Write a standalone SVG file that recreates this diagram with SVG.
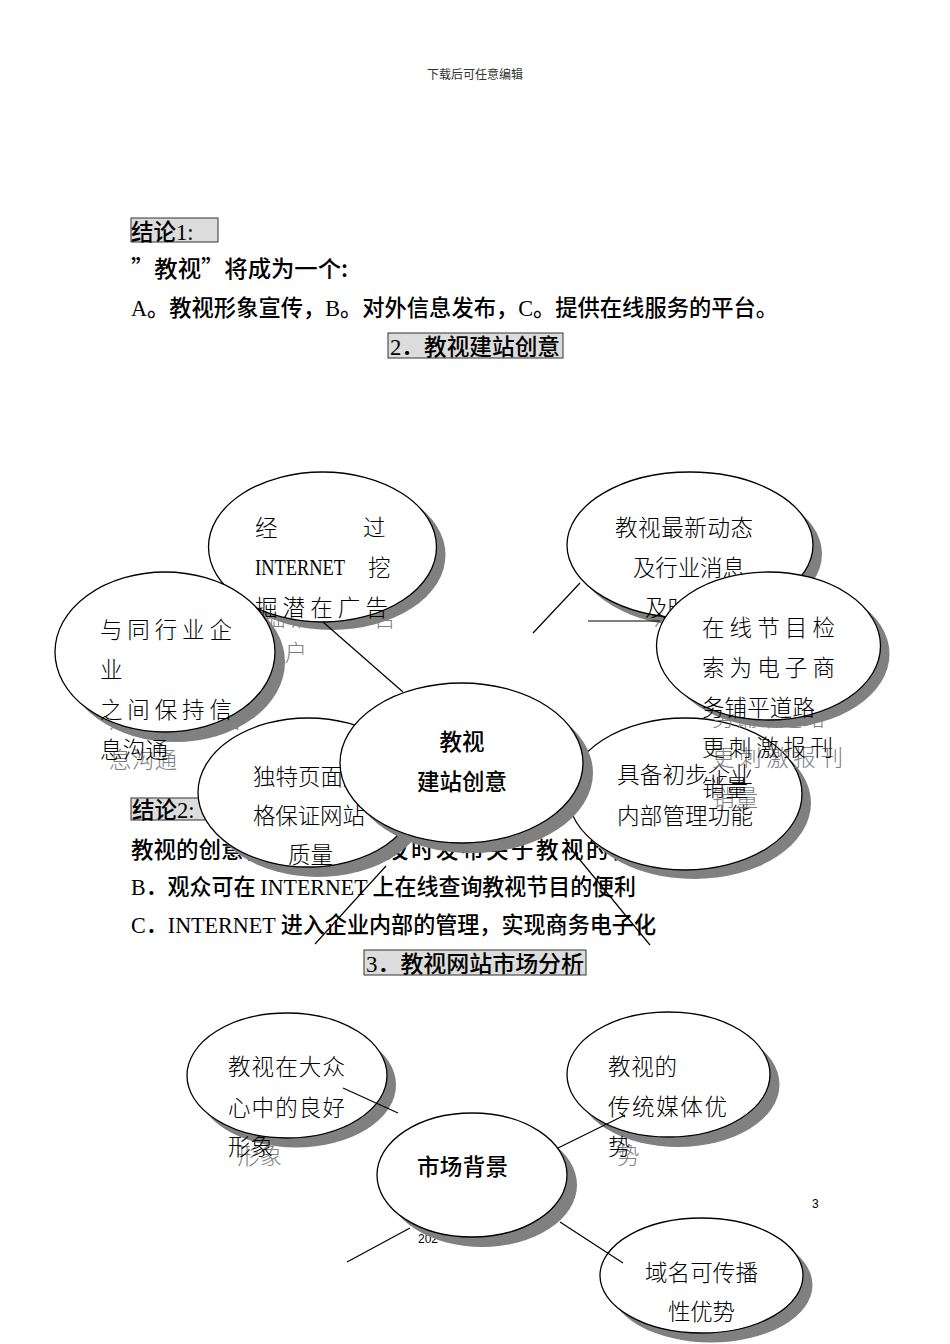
<svg xmlns="http://www.w3.org/2000/svg" xmlns:xlink="http://www.w3.org/1999/xlink" width="950" height="1344" viewBox="0 0 950 1344">
<style>
.pg{font-family:"Noto Sans CJK SC","Noto Sans",sans-serif;font-size:22.5px;font-weight:500;fill:#000}
.lat{font-family:"Liberation Serif","DejaVu Serif",serif}
.nt{font-family:"Noto Sans CJK SC",sans-serif;font-size:22.5px;font-weight:300}
.nb{font-family:"Noto Sans CJK SC",sans-serif;font-size:22.5px;font-weight:500}
.box{fill:#dcdcdc;stroke:#333;stroke-width:1}
.el{fill:#fff;stroke:#000;stroke-width:1.3}
.sh{fill:#808080}
.ln{stroke:#000;stroke-width:1.2;fill:none}
.hd{font-family:"Noto Sans CJK SC",sans-serif;font-size:12px;fill:#333}
.pn{font-family:"Liberation Sans",sans-serif;font-size:12px;fill:#000}
</style>
<defs>
<g id="t1" class="nt">
<text x="255" y="536">经</text>
<text x="363" y="536">过</text>
<text x="255" y="575" class="lat" textLength="90" lengthAdjust="spacingAndGlyphs">INTERNET</text>
<text x="368" y="576">挖</text>
<text x="255" y="616" textLength="133">掘潜在广告</text>
</g>
<g id="t2" class="nt">
<text x="615" y="536" textLength="138">教视最新动态</text>
<text x="633" y="576" textLength="112">及行业消息</text>
<text x="645" y="616">及时发布</text>
</g>
<g id="t3" class="nt">
<text x="100" y="638" textLength="132">与同行业企</text>
<text x="100" y="678">业</text>
<text x="100" y="718" textLength="132">之间保持信</text>
<text x="100" y="758" textLength="68">息沟通</text>
</g>
<g id="t4" class="nt">
<text x="702" y="636" textLength="133">在线节目检</text>
<text x="702" y="676" textLength="133">索为电子商</text>
<text x="702" y="716" textLength="113">务铺平道路</text>
<text x="702" y="756" textLength="131">更刺激报刊</text>
<text x="702" y="796" textLength="46">销量</text>
</g>
<g id="t6" class="nt">
<text x="253" y="785">独特页面风</text>
<text x="253" y="824" textLength="112">格保证网站</text>
<text x="288" y="863" textLength="45">质量</text>
</g>
<g id="t7" class="nt">
<text x="617" y="783" textLength="136">具备初步企业</text>
<text x="617" y="824" textLength="136">内部管理功能</text>
</g>
<g id="tA" class="nt">
<text x="228" y="1075" textLength="117">教视在大众</text>
<text x="228" y="1116" textLength="117">心中的良好</text>
<text x="228" y="1155" textLength="45">形象</text>
</g>
<g id="tC" class="nt">
<text x="608" y="1075" textLength="69">教视的</text>
<text x="608" y="1115" textLength="119">传统媒体优</text>
<text x="608" y="1155">势</text>
</g>
<g id="tD" class="nt">
<text x="645" y="1281" textLength="113">域名可传播</text>
<text x="668" y="1320" textLength="67">性优势</text>
</g>
</defs>

<rect x="0" y="0" width="950" height="1344" fill="#fff"/>

<g id="page-text">
<text class="hd" x="427" y="79">下载后可任意编辑</text>
<rect class="box" x="131" y="218" width="87" height="24"/>
<text class="pg" x="131" y="240">结论<tspan class="lat">1:</tspan></text>
<text class="pg" x="131" y="277" textLength="217" lengthAdjust="spacingAndGlyphs">”教视”将成为一个:</text>
<text class="pg" x="131" y="316" textLength="647" lengthAdjust="spacingAndGlyphs"><tspan class="lat">A</tspan>。教视形象宣传，<tspan class="lat">B</tspan>。对外信息发布，<tspan class="lat">C</tspan>。提供在线服务的平台。</text>
<rect class="box" x="388" y="333" width="175" height="25" fill="#e6e6e6"/>
<text class="pg" x="390" y="355" textLength="170" lengthAdjust="spacingAndGlyphs"><tspan class="lat">2</tspan>．教视建站创意</text>
<rect class="box" x="131" y="798" width="87" height="22"/>
<text class="pg" x="132" y="818">结论<tspan class="lat">2:</tspan></text>
<text class="pg" y="858"><tspan x="131">教视的创意将提供：<tspan class="lat">A</tspan>．</tspan><tspan x="386" letter-spacing="2.5">及时发布关于教视的信息</tspan></text>
<text class="pg" x="131" y="895" textLength="505" lengthAdjust="spacingAndGlyphs"><tspan class="lat">B</tspan>．观众可在 <tspan class="lat">INTERNET</tspan> 上在线查询教视节目的便利</text>
<text class="pg" x="131" y="933" textLength="525" lengthAdjust="spacingAndGlyphs"><tspan class="lat">C</tspan>．<tspan class="lat">INTERNET</tspan> 进入企业内部的管理，实现商务电子化</text>
<rect class="box" x="364" y="950" width="222" height="25" fill="#e6e6e6"/>
<text class="pg" x="366" y="972" textLength="218" lengthAdjust="spacingAndGlyphs"><tspan class="lat">3</tspan>．教视网站市场分析</text>
<text class="pn" x="418" y="1243">202</text>
<text class="pn" x="812" y="1208">3</text>
</g>

<g id="node-internet">
<ellipse class="sh" cx="331.5" cy="555" rx="114" ry="75"/>
<use xlink:href="#t1" x="8" y="10" fill="#808080"/>
<text class="nt" x="257" y="661" textLength="50" fill="#808080">客户</text>
<ellipse class="el" cx="322.5" cy="547" rx="114" ry="75"/>
<use xlink:href="#t1" fill="#000"/>
</g>

<g id="node-news">
<ellipse class="sh" cx="699" cy="554" rx="123" ry="73"/>
<use xlink:href="#t2" x="9" y="9" fill="#808080"/>
<ellipse class="el" cx="690" cy="545" rx="123" ry="73"/>
<use xlink:href="#t2" fill="#000"/>
</g>

<g id="node-peer">
<ellipse class="sh" cx="175" cy="662" rx="110" ry="80"/>
<use xlink:href="#t3" x="9" y="10" fill="#808080"/>
<ellipse class="el" cx="165" cy="652" rx="110" ry="80"/>
<use xlink:href="#t3" fill="#000"/>
</g>

<g id="node-manage">
<ellipse class="sh" cx="694" cy="803" rx="117" ry="76"/>
<use xlink:href="#t7" x="9" y="9" fill="#808080"/>
<ellipse class="el" cx="685" cy="794" rx="117" ry="76"/>
<use xlink:href="#t7" fill="#000"/>
</g>

<g id="node-search">
<ellipse class="sh" cx="777.5" cy="654" rx="112" ry="74"/>
<use xlink:href="#t4" x="10" y="10" fill="#808080"/>
<ellipse class="el" cx="768.5" cy="646" rx="112" ry="74"/>
<use xlink:href="#t4" fill="#000"/>
</g>

<g id="node-page">
<ellipse class="sh" cx="318" cy="802.5" rx="110" ry="74.5"/>
<use xlink:href="#t6" x="9" y="9" fill="#808080"/>
<ellipse class="el" cx="308" cy="792.5" rx="110" ry="74.5"/>
<use xlink:href="#t6" fill="#000"/>
</g>

<g id="node-center">
<ellipse class="sh" cx="471.5" cy="773" rx="121.5" ry="80"/>
<ellipse class="el" cx="461.5" cy="763" rx="121.5" ry="80"/>
<text class="nb" x="462" y="750" text-anchor="middle">教视</text>
<text class="nb" x="462" y="790" text-anchor="middle">建站创意</text>
</g>

<g id="node-image">
<ellipse class="sh" cx="296" cy="1085" rx="100" ry="62.5"/>
<use xlink:href="#tA" x="9" y="9" fill="#808080"/>
<ellipse class="el" cx="287" cy="1075.5" rx="100" ry="62.5"/>
<use xlink:href="#tA" fill="#000"/>
</g>

<g id="node-media">
<ellipse class="sh" cx="678" cy="1084.5" rx="101.5" ry="62.5"/>
<use xlink:href="#tC" x="9" y="9" fill="#808080"/>
<ellipse class="el" cx="668.5" cy="1074.5" rx="101.5" ry="62.5"/>
<use xlink:href="#tC" fill="#000"/>
</g>

<g id="node-domain">
<ellipse class="sh" cx="711" cy="1285" rx="101.5" ry="57.5"/>
<use xlink:href="#tD" x="9" y="9" fill="#808080"/>
<ellipse class="el" cx="701.5" cy="1275.5" rx="101.5" ry="57.5"/>
<use xlink:href="#tD" fill="#000"/>
</g>

<g id="node-market">
<ellipse class="sh" cx="482" cy="1185" rx="95" ry="62"/>
<ellipse class="el" cx="472" cy="1175" rx="95" ry="62"/>
<text class="nb" x="417" y="1175" textLength="91">市场背景</text>
</g>

<g id="connectors">
<line class="ln" x1="323" y1="622" x2="403" y2="692"/>
<line class="ln" x1="580" y1="583" x2="533" y2="633"/>
<line class="ln" x1="588" y1="621" x2="660" y2="621"/>
<line class="ln" x1="386" y1="866" x2="315" y2="944"/>
<line class="ln" x1="566" y1="843" x2="650" y2="945"/>
<line class="ln" x1="343" y1="1088" x2="398" y2="1113"/>
<line class="ln" x1="558" y1="1148" x2="625" y2="1115"/>
<line class="ln" x1="410" y1="1228" x2="347" y2="1262"/>
<line class="ln" x1="560" y1="1222" x2="623" y2="1263"/>
</g>
</svg>
